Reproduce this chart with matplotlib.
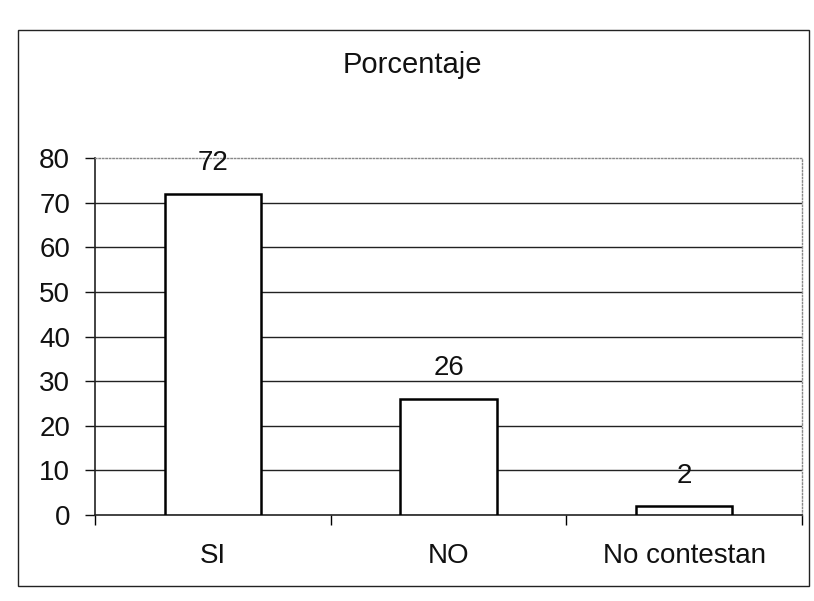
import matplotlib.pyplot as plt
from matplotlib.patches import Rectangle

categories = ["SI", "NO", "No contestan"]
values = [72, 26, 2]
value_labels = ["72", "26", "2"]
y_ticks = [0, 10, 20, 30, 40, 50, 60, 70, 80]

plt.rcParams["font.family"] = ["Liberation Sans", "DejaVu Sans"]
FS = 20

fig = plt.figure(figsize=(8.14, 6.01), dpi=100)
ax = fig.add_axes([0.117, 0.143, 0.868, 0.594])

# outer chart frame
fig.patches.append(Rectangle((0.022, 0.025), 0.972, 0.925, transform=fig.transFigure,
                             fill=False, edgecolor="#222222", linewidth=1.0))

x = range(len(categories))
ax.bar(x, values, width=0.41, color="white", edgecolor="black", linewidth=1.8, zorder=3)
for xi, v, lab in zip(x, values, value_labels):
    ax.annotate(lab, (xi, v), xytext=(0, 22), textcoords="offset points",
                ha="center", va="center", fontsize=FS, color="#111111", zorder=4)

ax.set_xlim(-0.5, len(categories) - 0.5)
ax.set_ylim(0, 80)
ax.set_yticks(y_ticks)
ax.set_xticks(list(x))
ax.set_xticklabels(categories)
ax.set_xticks([-0.5, 0.5, 1.5, 2.5], minor=True)
ax.tick_params(axis="x", which="major", length=0, pad=20, labelsize=FS, colors="#111111")
ax.tick_params(axis="x", which="minor", length=7, direction="out", width=1.0)
ax.tick_params(axis="y", length=7, direction="out", width=1.0, pad=11, labelsize=FS, colors="#111111")

for yv in y_ticks[1:-1]:
    ax.axhline(yv, color="#222222", linewidth=1.0, zorder=1)

for side in ("top", "right"):
    ax.spines[side].set_color("#888888")
    ax.spines[side].set_linestyle((0, (1, 1.5)))
    ax.spines[side].set_linewidth(1.0)
for side in ("left", "bottom"):
    ax.spines[side].set_color("#222222")
    ax.spines[side].set_linewidth(1.2)

fig.text(0.507, 0.892, "Porcentaje", ha="center", va="center", fontsize=21, color="#111111")

fig.savefig("out.png", dpi=100)
